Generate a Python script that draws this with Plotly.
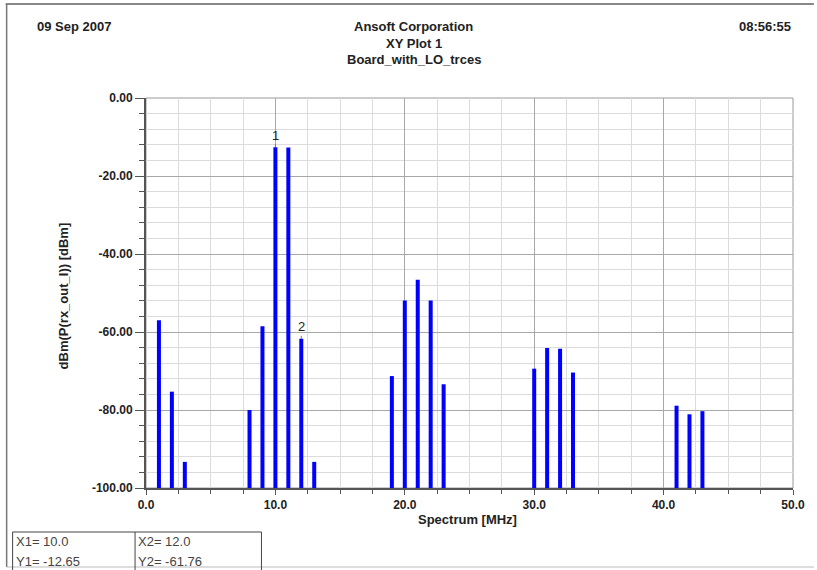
import plotly.graph_objects as go

# ---- data ----
freq_mhz = [1, 2, 3, 8, 9, 10, 11, 12, 13, 19, 20, 21, 22, 23, 30, 31, 32, 33, 41, 42, 43]
power_dbm = [-57.0, -75.3, -93.3, -80.0, -58.5, -12.65, -12.7, -61.76, -93.3,
             -71.3, -51.9, -46.6, -51.9, -73.4, -69.4, -64.1, -64.3, -70.4,
             -78.9, -81.1, -80.3]
floor_dbm = -100
markers = [("1", 10.0, -12.65), ("2", 12.0, -61.76)]
x_tick_vals = [0, 10, 20, 30, 40, 50]
x_tick_text = ["0.0", "10.0", "20.0", "30.0", "40.0", "50.0"]
y_tick_vals = [0, -20, -40, -60, -80, -100]
y_tick_text = ["0.00", "-20.00", "-40.00", "-60.00", "-80.00", "-100.00"]
header_left = "09 Sep 2007"
header_right = "08:56:55"
title_lines = ["Ansoft Corporation", "XY Plot 1", "Board_with_LO_trces"]
table_cells = [("X1= 10.0", "Y1= -12.65"), ("X2= 12.0", "Y2= -61.76")]

FONT = "Liberation Sans, Arial, sans-serif"

W, H = 817, 570
L, R, T, B = 146, 796, 98, 488


def px(x):
    return (x - L) / (R - L)


def py(y):
    return (B - y) / (B - T)


# spectral lines from floor to value
xs, ys = [], []
for f, v in zip(freq_mhz, power_dbm):
    xs += [f, f, None]
    ys += [floor_dbm, v, None]

fig = go.Figure()
fig.add_trace(go.Scatter(x=xs, y=ys, mode="lines",
                         line=dict(color="#0000ff", width=4),
                         hoverinfo="skip", showlegend=False))

annotations = []
for label, mx, my in markers:
    annotations.append(dict(x=mx, y=my, xref="x", yref="y", text=label,
                            showarrow=True, arrowhead=0, arrowwidth=1,
                            arrowcolor="#777777", ax=0, ay=-12, standoff=0,
                            font=dict(family=FONT, size=13, color="#222222")))

hdr_font = dict(family=FONT, size=13, color="#222222", weight="bold")
annotations.append(dict(x=px(34), y=py(27), xref="paper", yref="paper", text=header_left,
                        showarrow=False, xanchor="left", yanchor="middle", font=hdr_font))
annotations.append(dict(x=px(796), y=py(27), xref="paper", yref="paper", text=header_right,
                        showarrow=False, xanchor="right", yanchor="middle", font=hdr_font))
for i, t in enumerate(title_lines):
    annotations.append(dict(x=px(415), y=py(27 + 16.5 * i), xref="paper", yref="paper",
                            text=t, showarrow=False, xanchor="center", yanchor="middle",
                            font=hdr_font))

# axis titles
annotations.append(dict(x=px(63), y=py(296), xref="paper", yref="paper",
                        text="dBm(P(rx_out_I)) [dBm]", textangle=-90, showarrow=False,
                        xanchor="center", yanchor="middle", font=hdr_font))
annotations.append(dict(x=px(469), y=py(519), xref="paper", yref="paper",
                        text="Spectrum [MHz]", showarrow=False,
                        xanchor="center", yanchor="middle", font=hdr_font))

# marker table
cell_x = [13, 136]
tbl_font = dict(family=FONT, size=13, color="#444444")
for (tx, ty), cx in zip(table_cells, cell_x):
    annotations.append(dict(x=px(cx), y=py(541), xref="paper", yref="paper", text=tx,
                            showarrow=False, xanchor="left", yanchor="middle", font=tbl_font))
    annotations.append(dict(x=px(cx), y=py(561), xref="paper", yref="paper", text=ty,
                            showarrow=False, xanchor="left", yanchor="middle", font=tbl_font))

shapes = [
    # page frame
    dict(type="line", xref="paper", yref="paper", x0=px(5), x1=px(817), y0=py(4), y1=py(4),
         line=dict(color="#888888", width=2)),
    dict(type="line", xref="paper", yref="paper", x0=px(6), x1=px(6), y0=py(4), y1=py(567),
         line=dict(color="#777777", width=1.5)),
    dict(type="line", xref="paper", yref="paper", x0=px(6), x1=px(817), y0=py(567), y1=py(567),
         line=dict(color="#bbbbbb", width=1)),
    # plot border (top/right)
    dict(type="rect", xref="paper", yref="paper", x0=0, x1=1, y0=0, y1=1,
         line=dict(color="#999999", width=1), layer="below"),
    # table
    dict(type="line", xref="paper", yref="paper", x0=px(12), x1=px(262), y0=py(532), y1=py(532),
         line=dict(color="#444444", width=1)),
    dict(type="line", xref="paper", yref="paper", x0=px(12), x1=px(12), y0=py(532), y1=py(572),
         line=dict(color="#444444", width=1)),
    dict(type="line", xref="paper", yref="paper", x0=px(135), x1=px(135), y0=py(532), y1=py(572),
         line=dict(color="#444444", width=1)),
    dict(type="line", xref="paper", yref="paper", x0=px(262), x1=px(262), y0=py(532), y1=py(572),
         line=dict(color="#444444", width=1)),
]

tickfont = dict(family=FONT, size=12, color="#222222", weight="bold")

fig.update_layout(
    width=W, height=H, autosize=False,
    margin=dict(l=L, r=W - R, t=T, b=H - B, pad=0),
    paper_bgcolor="white", plot_bgcolor="white",
    showlegend=False,
    annotations=annotations,
    shapes=shapes,
    xaxis=dict(range=[0, 50], tickmode="array", tickvals=x_tick_vals, ticktext=x_tick_text,
               showgrid=True, gridcolor="#a8a8a8", gridwidth=1,
               showline=True, linecolor="#555555", linewidth=2,
               ticks="outside", ticklen=5, tickcolor="#555555",
               tickfont=tickfont, zeroline=False,
               minor=dict(dtick=2.5, tick0=0, showgrid=True, gridcolor="#dcdcdc",
                          ticks="outside", ticklen=4, tickcolor="#555555")),
    yaxis=dict(range=[-100, 0], tickmode="array", tickvals=y_tick_vals, ticktext=y_tick_text,
               showgrid=True, gridcolor="#a8a8a8", gridwidth=1,
               showline=True, linecolor="#555555", linewidth=2,
               ticks="outside", ticklen=9, tickcolor="#555555",
               tickfont=tickfont, zeroline=False,
               minor=dict(dtick=4, tick0=0, showgrid=True, gridcolor="#dcdcdc",
                          ticks="outside", ticklen=5, tickcolor="#555555")),
)

fig.write_html("out.html")
